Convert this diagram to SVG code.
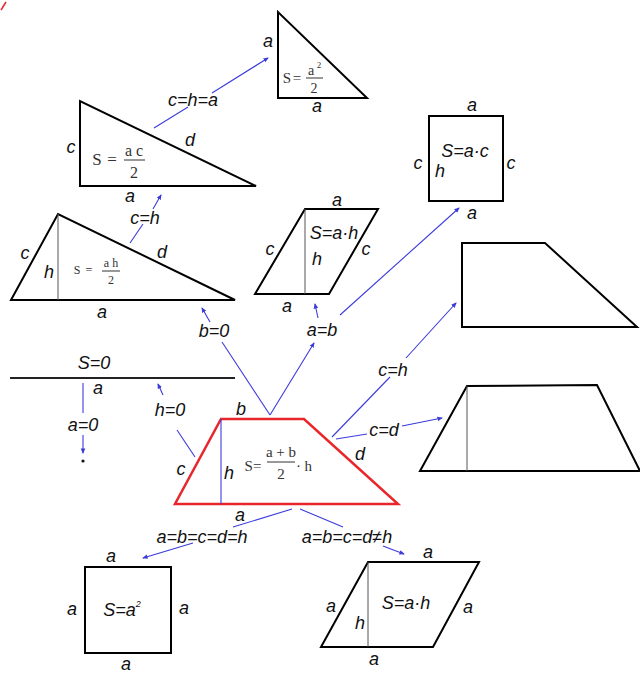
<svg xmlns="http://www.w3.org/2000/svg" width="640" height="674" viewBox="0 0 640 674">
<defs>
<marker id="ah" viewBox="0 0 6 6" refX="5" refY="3" markerWidth="5" markerHeight="5" orient="auto"><path d="M0,0.5 L6,3 L0,5.5 z" fill="#3b3bdc"/></marker>
<style>
.sh{fill:none;stroke:#000;stroke-width:2;stroke-linejoin:miter}
.ht{fill:none;stroke:#555;stroke-width:1}
.red{fill:none;stroke:#e8262b;stroke-width:2.5}
.cn{fill:none;stroke:#3b3bdc;stroke-width:1.1}
.ar{marker-end:url(#ah)}
.l{font-family:"Liberation Sans",Arial,sans-serif;font-style:italic;font-size:18px;fill:#111;text-anchor:middle}
.f{font-family:"Liberation Serif","Times New Roman",serif;fill:#333;text-anchor:middle}
.fl{stroke:#333;stroke-width:1}
</style>
</defs>
<rect width="640" height="674" fill="#fff"/>
<path d="M1,10 L6,2" stroke="#e8262b" stroke-width="1.5" fill="none"/>

<g id="connectors">
<line class="cn" x1="154" y1="128" x2="188" y2="107"/>
<line class="cn ar" x1="212" y1="93" x2="268" y2="58"/>
<line class="cn" x1="130" y1="243" x2="143" y2="224"/>
<line class="cn ar" x1="153" y1="209" x2="161" y2="195"/>
<line class="cn" x1="270" y1="415" x2="222" y2="342"/>
<line class="cn ar" x1="210" y1="322" x2="202" y2="308"/>
<line class="cn ar" x1="270" y1="415" x2="314" y2="343"/>
<line class="cn ar" x1="318" y1="318" x2="315" y2="304"/>
<line class="cn ar" x1="340" y1="315" x2="459" y2="208"/>
<line class="cn" x1="332" y1="437" x2="390" y2="377"/>
<line class="cn ar" x1="406" y1="358" x2="456" y2="303"/>
<line class="cn" x1="336" y1="439" x2="367" y2="434"/>
<line class="cn ar" x1="402" y1="426" x2="442" y2="418"/>
<line class="cn" x1="195" y1="457" x2="177" y2="430"/>
<line class="cn ar" x1="163" y1="395" x2="158" y2="384"/>
<line class="cn" x1="83" y1="383" x2="83" y2="413"/>
<line class="cn ar" x1="83" y1="435" x2="83" y2="453"/>
<line class="cn" x1="292" y1="509" x2="233" y2="527"/>
<line class="cn ar" x1="193" y1="543" x2="143" y2="558"/>
<line class="cn" x1="300" y1="509" x2="343" y2="527"/>
<line class="cn ar" x1="383" y1="546" x2="404" y2="554"/>
<text class="l" x="193" y="106">c=h=a</text>
<text class="l" x="145" y="224">c=h</text>
<text class="l" x="214" y="337">b=0</text>
<text class="l" x="322" y="336">a=b</text>
<text class="l" x="393" y="376">c=h</text>
<text class="l" x="384" y="436">c=d</text>
<text class="l" x="170" y="416">h=0</text>
<text class="l" x="83" y="431">a=0</text>
<text class="l" x="202" y="543">a=b=c=d=h</text>
<text class="l" x="347" y="543">a=b=c=d≠h</text>
</g>

<g id="tri-isosceles-right">
<path class="sh" d="M278,12 L278,98 L367,98 Z"/>
<text class="l" x="268" y="47">a</text>
<text class="l" x="317" y="112">a</text>
<text class="f" x="287" y="83" font-size="15">S</text>
<text class="f" x="297" y="83" font-size="15">=</text>
<text class="f" x="311" y="75" font-size="14">a</text>
<text class="f" x="319" y="68" font-size="9">2</text>
<line class="fl" x1="306" y1="78" x2="323" y2="78"/>
<text class="f" x="314" y="93" font-size="14">2</text>
</g>

<g id="tri-right">
<path class="sh" d="M80,101 L80,186 L256,186 Z"/>
<text class="l" x="71" y="153">c</text>
<text class="l" x="190" y="146">d</text>
<text class="l" x="130" y="202">a</text>
<text class="f" x="97" y="165" font-size="17">S</text>
<text class="f" x="112" y="165" font-size="17">=</text>
<text class="f" x="134" y="156" font-size="16">a c</text>
<line class="fl" x1="124" y1="160" x2="145" y2="160"/>
<text class="f" x="134" y="178" font-size="16">2</text>
</g>

<g id="tri-general">
<path class="sh" d="M11,300 L58,214 L235,300 Z"/>
<line class="ht" x1="58" y1="214" x2="58" y2="300"/>
<text class="l" x="25" y="259">c</text>
<text class="l" x="49" y="278">h</text>
<text class="l" x="162" y="258">d</text>
<text class="l" x="102" y="318">a</text>
<text class="f" x="77" y="274" font-size="12">S</text>
<text class="f" x="89" y="274" font-size="12">=</text>
<text class="f" x="111" y="267" font-size="12">a h</text>
<line class="fl" x1="102" y1="271" x2="120" y2="271"/>
<text class="f" x="111" y="284" font-size="12">2</text>
</g>

<g id="parallelogram">
<path class="sh" d="M305,209 L378,209 L329,294 L255,294 Z"/>
<line class="ht" x1="305" y1="209" x2="305" y2="294"/>
<text class="l" x="337" y="206">a</text>
<text class="l" x="270" y="255">c</text>
<text class="l" x="366" y="255">c</text>
<text class="l" x="334" y="239">S=a·h</text>
<text class="l" x="317" y="265">h</text>
<text class="l" x="287" y="312">a</text>
</g>

<g id="rectangle">
<rect class="sh" x="429" y="116" width="74" height="85"/>
<text class="l" x="472" y="111">a</text>
<text class="l" x="418" y="169">c</text>
<text class="l" x="511" y="169">c</text>
<text class="l" x="465" y="157">S=a·c</text>
<text class="l" x="440" y="177">h</text>
<text class="l" x="472" y="219">a</text>
</g>

<g id="trap-right">
<path class="sh" d="M462,243 L545,243 L637,327 L462,327 Z"/>
</g>

<g id="trap-general">
<path class="sh" d="M467,386 L597,385 L640,471 L420,471 Z"/>
<line class="ht" x1="467" y1="386" x2="467" y2="471"/>
</g>

<g id="segment">
<line x1="10" y1="378" x2="235" y2="378" stroke="#222" stroke-width="2"/>
<text class="l" x="94" y="369">S=0</text>
<text class="l" x="98" y="394">a</text>
</g>

<g id="point">
<circle cx="83" cy="461" r="1.6" fill="#111"/>
</g>

<g id="trapezoid">
<path class="red" d="M221,419 L304,419 L398,504 L175,504 Z"/>
<line x1="221" y1="419" x2="221" y2="504" stroke="#3b3bdc" stroke-width="1.1"/>
<text class="l" x="241" y="415">b</text>
<text class="l" x="181" y="475">c</text>
<text class="l" x="229" y="479">h</text>
<text class="l" x="360" y="460">d</text>
<text class="l" x="240" y="521">a</text>
<text class="f" x="253" y="471" font-size="15">S=</text>
<text class="f" x="281" y="457" font-size="15">a + b</text>
<line class="fl" x1="267" y1="462" x2="295" y2="462"/>
<text class="f" x="281" y="479" font-size="15">2</text>
<text class="f" x="304" y="471" font-size="15">· h</text>
</g>

<g id="square">
<rect class="sh" x="85" y="567" width="86" height="86"/>
<text class="l" x="111" y="562">a</text>
<text class="l" x="72" y="615">a</text>
<text class="l" x="184" y="614">a</text>
<text class="l" x="126" y="670">a</text>
<text class="l" x="122" y="616">S=a<tspan font-size="9" dy="-9">2</tspan></text>
</g>

<g id="rhombus">
<path class="sh" d="M368,562 L479,562 L433,647 L321,647 Z"/>
<line class="ht" x1="368" y1="562" x2="368" y2="647"/>
<text class="l" x="428" y="558">a</text>
<text class="l" x="331" y="612">a</text>
<text class="l" x="468" y="613">a</text>
<text class="l" x="406" y="609">S=a·h</text>
<text class="l" x="360" y="629">h</text>
<text class="l" x="374" y="665">a</text>
</g>
</svg>
